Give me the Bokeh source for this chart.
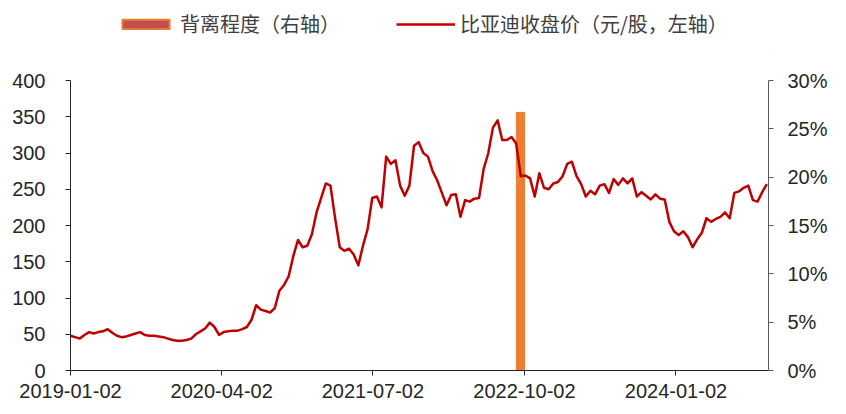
import pandas as pd
from bokeh.plotting import figure
from bokeh.layouts import column
from bokeh.models import (Range1d, LinearAxis, FixedTicker, NumeralTickFormatter,
                          DatetimeTickFormatter, Legend, LegendItem, ColumnDataSource)
from bokeh.embed import file_html
from bokeh.resources import INLINE

# ---------------- data ----------------
start_date = "2019-01-02"
step_days = 14
price = [
    48, 46, 44, 49, 53, 51, 53, 54, 57, 52,
    48, 46, 47, 49, 51, 53, 49, 48, 48, 47,
    46, 44, 42, 41, 41, 42, 44, 50, 54, 58,
    66, 60, 49, 53, 54, 55, 55, 57, 60, 70,
    90, 84, 82, 80, 86, 110, 118, 130, 158, 180,
    170, 172, 188, 218, 238, 258, 255, 210, 170, 165,
    168, 160, 145, 172, 195, 238, 240, 225, 295, 285,
    290, 255, 241, 255, 310, 315, 300, 295, 275, 262,
    245, 228, 242, 243, 212, 235, 233, 237, 238, 278,
    300, 335, 345, 318, 318, 322, 313, 268, 269, 265,
    240, 272, 252, 250, 258, 260, 268, 285, 288, 268,
    257, 240, 248, 243, 255, 257, 245, 264, 256, 265,
    258, 265, 240, 246, 241, 236, 243, 237, 236, 205,
    192, 187, 192, 184, 170, 181, 190, 210, 205, 209,
    212, 218, 210, 245, 247, 252, 255, 235, 233, 246,
    257,
]
div_dates = ["2022-09-20"]
div_values = [0.267]
div_width_days = 25

x_tick_labels = ["2019-01-02", "2020-04-02", "2021-07-02", "2022-10-02", "2024-01-02"]
x_end = "2024-10-07"
left_ticks = [0, 50, 100, 150, 200, 250, 300, 350, 400]
right_ticks = [0, 0.05, 0.10, 0.15, 0.20, 0.25, 0.30]

label_bar = "背离程度（右轴）"
label_line = "比亚迪收盘价（元/股，左轴）"

# ---------------- sources ----------------
dates = pd.date_range(start_date, periods=len(price), freq=f"{step_days}D")
src = ColumnDataSource(dict(date=dates, price=price))
bar_src = ColumnDataSource(dict(date=pd.to_datetime(div_dates), value=div_values))

TXT = "#262626"
FONT = "Liberation Sans"
RED = "#C00000"
ORANGE = "#ED7D31"
BAR_W = div_width_days * 86400000

p = figure(width=830, height=356, x_axis_type="datetime",
           x_range=Range1d(pd.Timestamp(start_date), pd.Timestamp(x_end)),
           y_range=Range1d(left_ticks[0], left_ticks[-1]),
           output_backend="svg", toolbar_location=None,
           min_border_left=70, min_border_right=57, min_border_top=30, min_border_bottom=36)
p.extra_y_ranges = {"pct": Range1d(right_ticks[0], right_ticks[-1])}
p.outline_line_color = None
p.xgrid.visible = False
p.ygrid.visible = False
p.background_fill_color = "white"

# bar on right axis
p.vbar(x="date", top="value", width=BAR_W, source=bar_src,
       y_range_name="pct", fill_color=ORANGE, line_color=ORANGE, line_width=1)

# price line
p.line(x="date", y="price", source=src, line_color=RED, line_width=2.5, line_join="round")

# axes
xa = p.xaxis[0]
xa.ticker = FixedTicker(ticks=[pd.Timestamp(t).value // 10**6 for t in x_tick_labels])
xa.formatter = DatetimeTickFormatter(days="%Y-%m-%d", months="%Y-%m-%d", years="%Y-%m-%d")
ya = p.yaxis[0]
ya.ticker = FixedTicker(ticks=left_ticks)

ra = LinearAxis(y_range_name="pct", ticker=FixedTicker(ticks=right_ticks),
                formatter=NumeralTickFormatter(format="0%"))
p.add_layout(ra, "right")

for ax in (xa, ya, ra):
    ax.major_label_text_font = FONT
    ax.major_label_text_font_size = "20px"
    ax.major_label_text_color = TXT
    ax.axis_line_color = TXT
    ax.major_tick_line_color = TXT
    ax.major_tick_in = 0
    ax.major_tick_out = 5
    ax.minor_tick_in = 0
    ax.minor_tick_out = 0
ra.axis_line_color = "#595959"
ra.major_tick_line_color = "#595959"
xa.major_label_standoff = 8
ya.major_label_standoff = 20
ra.major_label_standoff = 14

# ---------------- legend strip (separate figure above the chart) ----------------
# its frame is aligned with the chart's frame; its ranges keep the proxy glyphs
# far out of view, so only their legend swatches show
lf = figure(width=830, height=50, x_range=Range1d(0, 1), y_range=Range1d(1000, 1001),
            output_backend="svg", toolbar_location=None, min_border=0)
lf.axis.visible = False
lf.xgrid.visible = False
lf.ygrid.visible = False
lf.outline_line_color = None
leg_bar = lf.vbar(x="date", top="value", width=BAR_W, source=bar_src,
                  fill_color="#C0504D", line_color=ORANGE, line_width=2)
leg_line = lf.line(x="date", y="price", source=src, line_color=RED, line_width=2.5)

legend = Legend(items=[LegendItem(label=label_bar, renderers=[leg_bar]),
                       LegendItem(label=label_line, renderers=[leg_line])],
                location=(46, 12), orientation="horizontal",
                glyph_width=59, glyph_height=12, label_standoff=5, label_width=216,
                spacing=0, padding=0, margin=0, border_line_color=None,
                background_fill_alpha=0,
                label_text_font="Noto Sans CJK SC", label_text_font_size="20px",
                label_text_color="#404040")
lf.add_layout(legend)

layout = column(lf, p, spacing=0)
open("out.html", "w").write(file_html(layout, INLINE))
